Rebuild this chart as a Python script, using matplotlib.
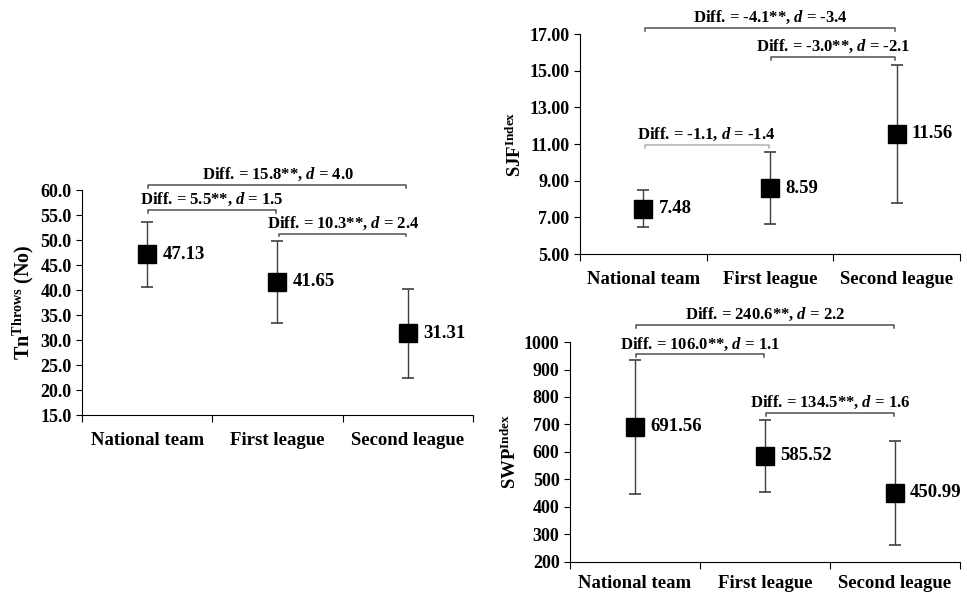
import matplotlib.pyplot as plt

plt.rcParams["font.family"] = "Liberation Serif"
plt.rcParams["font.weight"] = "bold"
plt.rcParams["mathtext.fontset"] = "custom"
plt.rcParams["mathtext.rm"] = "Liberation Serif:bold"
plt.rcParams["mathtext.bf"] = "Liberation Serif:bold"
plt.rcParams["mathtext.it"] = "Liberation Serif:italic:bold"
plt.rcParams["mathtext.bfit"] = "Liberation Serif:italic:bold"

# --- datos ---
grupos = ["National team", "First league", "Second league"]

tn_media = [47.13, 41.65, 31.31]
tn_sd = [6.5, 8.2, 8.9]

sjf_media = [7.48, 8.59, 11.56]
sjf_sd = [1.0, 1.97, 3.75]

swp_media = [691.56, 585.52, 450.99]
swp_sd = [244, 132, 189]

# comparaciones: (grupo i, grupo j, altura, diff, d)
tn_comp = [(0, 2, 61.0, "15.8**", "4.0"), (0, 1, 56.0, "5.5**", "1.5"),
           (1, 2, 51.3, "10.3**", "2.4")]
sjf_comp = [(0, 2, 17.33, "-4.1**", "-3.4"), (1, 2, 15.75, "-3.0**", "-2.1"),
            (0, 1, 10.94, "-1.1", "-1.4")]
swp_comp = [(0, 2, 1062, "240.6**", "2.2"), (0, 1, 955, "106.0**", "1.1"),
            (1, 2, 741, "134.5**", "1.6")]

fig = plt.figure(figsize=(9.67, 5.95), dpi=100)


def panel(rect, medias, sds, comps, ylim, yticks, fmt, ylabel, ylab_size,
          comp_colors, pad_cat):
    ax = fig.add_axes(rect)
    xs = [0.5, 1.5, 2.5]
    ax.errorbar(xs, medias, yerr=sds, fmt="s", color="black", ms=12.3,
                ecolor="#404040", elinewidth=1, capsize=4.5, capthick=1.2,
                zorder=3)
    for x, m in zip(xs, medias):
        ax.annotate(f"{m:.2f}", (x, m), xytext=(11, 0),
                    textcoords="offset points", ha="left", va="center",
                    fontsize=13.5, fontweight="bold")
    ax.set_xlim(0, 3)
    ax.set_ylim(ylim)
    ax.set_yticks(yticks)
    ax.set_yticklabels([fmt.format(v) for v in yticks], fontsize=13,
                       fontweight="bold")
    ax.set_xticks([0, 1, 2, 3])
    ax.set_xticklabels([])
    ax.set_xticks(xs, minor=True)
    ax.set_xticklabels(grupos, minor=True, fontsize=13.5, fontweight="bold")
    ax.tick_params(axis="x", which="major", length=5, direction="out")
    ax.tick_params(axis="x", which="minor", length=0, pad=pad_cat)
    ax.tick_params(axis="y", length=4, direction="out", width=0.8)
    for s in ("top", "right"):
        ax.spines[s].set_visible(False)
    ax.set_ylabel(ylabel, fontsize=ylab_size, fontweight="bold", labelpad=3)

    # corchetes de comparación
    rango = ylim[1] - ylim[0]
    tic = rango * 0.012
    for (i, j, h, diff, d), col in zip(comps, comp_colors):
        x0 = xs[i] + 0.01
        x1 = xs[j] - 0.01
        ax.plot([x0, x0, x1, x1], [h - tic, h, h, h - tic], color=col,
                lw=1.1, clip_on=False)
        ax.text((x0 + x1) / 2, h + rango * 0.008,
                f"Diff. = {diff}, $\\mathbfit{{d}}$ = {d}", ha="center",
                va="bottom", fontsize=12, fontweight="bold", clip_on=False)
    return ax


panel([0.0848, 0.3025, 0.4043, 0.378], tn_media, tn_sd, tn_comp, (15, 60),
      [15, 20, 25, 30, 35, 40, 45, 50, 55, 60], "{:.1f}",
      r"Tn$^{\mathbf{Throws}}$ (No)", 14.5,
      ["#505050", "#505050", "#505050"], 12)

panel([0.5998, 0.573, 0.393, 0.3697], sjf_media, sjf_sd, sjf_comp, (5, 17),
      [5, 7, 9, 11, 13, 15, 17], "{:.2f}",
      r"SJF$^{\mathbf{Index}}$", 13.5,
      ["#505050", "#505050", "#b0b0b0"], 12)

panel([0.5894, 0.0555, 0.4033, 0.3697], swp_media, swp_sd, swp_comp,
      (200, 1000), [200, 300, 400, 500, 600, 700, 800, 900, 1000], "{:.0f}",
      r"SWP$^{\mathbf{Index}}$", 13.5,
      ["#505050", "#505050", "#505050"], 9.5)

fig.savefig("out.png", dpi=100)
